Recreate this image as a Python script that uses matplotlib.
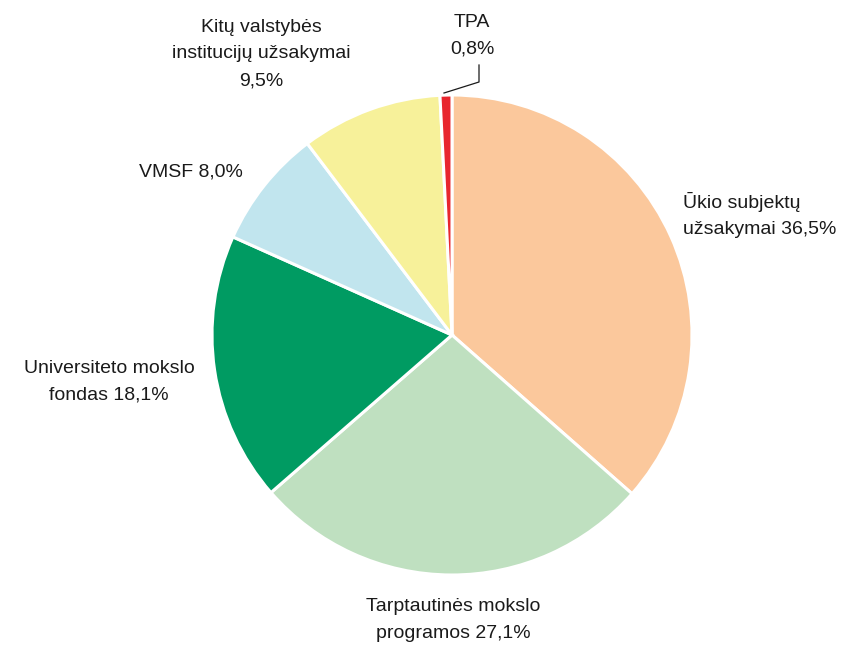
import matplotlib
matplotlib.use("Agg")
import matplotlib.pyplot as plt

labels = ["Ūkio subjektų\nužsakymai", "Tarptautinės mokslo\nprogramos",
          "Universiteto mokslo\nfondas", "VMSF", "Kitų valstybės\ninstitucijų užsakymai", "TPA"]
shares = [36.5, 27.1, 18.1, 8.0, 9.5, 0.8]
colors = ["#FBC89C", "#BFE0C0", "#009B62", "#C1E5EE", "#F7F19A", "#E8262E"]

plt.rcParams["font.family"] = ["Liberation Sans", "DejaVu Sans"]

fig = plt.figure(figsize=(8.58, 6.45), dpi=100)
ax = fig.add_axes([0, 0, 1, 1])

ax.pie(shares, colors=colors, startangle=90, counterclock=False,
       center=(452, 310), radius=240,
       wedgeprops=dict(edgecolor="white", linewidth=2.2), frame=True)
ax.set_xlim(0, 858)
ax.set_ylim(0, 645)
ax.set_aspect("equal")
ax.axis("off")


def pct(v):
    return f"{v:.1f}%".replace(".", ",")


def two(lbl, v):
    a, b = lbl.split("\n")
    return f"{a}\n{b} {pct(v)}"


kw = dict(fontsize=14, color="#1a1a1a", linespacing=1.75)
# label placement (pixel coords, y measured from bottom)
ax.text(683, 430, two(labels[0], shares[0]), ha="left", va="center", **kw)
ax.text(453, 25, two(labels[1], shares[1]), ha="center", va="center", **kw)
ax.text(109, 263, two(labels[2], shares[2]), ha="center", va="center", **kw)
ax.text(191, 473, f"{labels[3]} {pct(shares[3])}", ha="center", va="center", **kw)
ax.text(261, 591, f"{labels[4]}\n{pct(shares[4])}", ha="center", va="center", **kw)
ax.text(472, 609, f"{labels[5]}\n{pct(shares[5])}", ha="center", va="center", **kw)

# leader line for TPA
ax.plot([444, 479, 479], [552, 563, 580], color="#1a1a1a", lw=0.9)

fig.savefig("out.png", dpi=100, facecolor="white")
